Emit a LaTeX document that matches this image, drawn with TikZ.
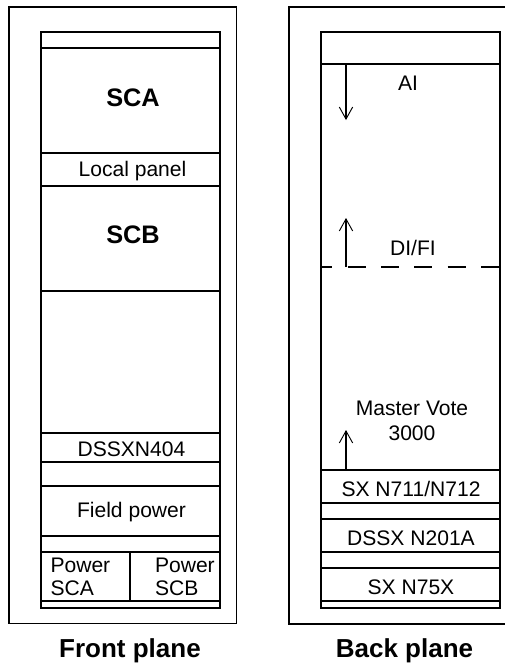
\documentclass[tikz,border=0pt]{standalone}
\usepackage{fontspec}
\setmainfont{Liberation Sans}
\usetikzlibrary{arrows.meta}

\tikzset{
  frame/.style={draw,line width=0.8pt},
  label/.style={inner sep=0pt,font=\fontsize{15.8}{17.5}\selectfont},
  biglabel/.style={inner sep=0pt,font=\fontsize{19}{21}\selectfont\bfseries},
  planelabel/.style={inner sep=0pt,anchor=base,font=\fontsize{19.5}{22}\selectfont\bfseries},
  flow/.style={line width=0.8pt,-{Straight Barb[length=9pt,width=10pt,line width=0.7pt]}}
}

\begin{document}
\begin{tikzpicture}[x=0.75pt,y=-0.75pt,line width=0.8pt]
		\useasboundingbox (0,0) rectangle (505,665);

		% front plane
		\draw[frame] (9,7) rectangle (236.5,623.5);
		\draw[frame] (41,32) rectangle (220,608);
		\foreach \y in {48,153,186,291,433,462,486,536,552,601}
			\draw (41,\y) -- (220,\y);
		\draw (130,552) -- (130,601);

		\node[biglabel] (sca) at (133,98) {SCA};
		\node[label] (local) at (132.5,171) {Local panel};
		\node[biglabel] (scb) at (133,235) {SCB};
		\node[label] (dssxn404) at (131.5,449) {DSSXN404};
		\node[label] (fieldpower) at (131.5,512) {Field power};
		\node[label,anchor=west,align=left] (powera) at (50,577) {Power\\SCA};
		\node[label,anchor=west,align=left] (powerb) at (154.5,577) {Power\\SCB};
		\node[planelabel] (front) at (130,657) {Front plane};

		% back plane
		\draw[frame] (506,7) -- (289,7) -- (289,624) -- (506,624);
		\draw[frame] (321,32) rectangle (500,608);
		\foreach \y in {64,470,503,519,552,568,601}
			\draw (321,\y) -- (500,\y);
		\draw[dash pattern=on 13.5pt off 11.5pt,dash phase=5pt] (321,267) -- (500,267);

		\coordinate (ai1) at (346,64);
		\coordinate (ai2) at (346,120);
		\coordinate (di1) at (346,267);
		\coordinate (di2) at (346,218);
		\coordinate (mv1) at (346,470);
		\coordinate (mv2) at (346,430);
		\draw[flow] (ai1) -- (ai2);
		\draw[flow] (di1) -- (di2);
		\draw[flow] (mv1) -- (mv2);

		\node[label] (ai) at (408,83) {AI};
		\node[label] (difi) at (413,248) {DI/FI};
		\node[label,align=center] (vote) at (412,421) {Master Vote\\[1.5pt]3000};
		\node[label] (sxn711) at (411,489) {SX N711/N712};
		\node[label] (dssxn201) at (411,538) {DSSX N201A};
		\node[label] (sxn75) at (411,587) {SX N75X};
		\node[planelabel] (back) at (404.5,657) {Back plane};
	\end{tikzpicture}
\end{document}
